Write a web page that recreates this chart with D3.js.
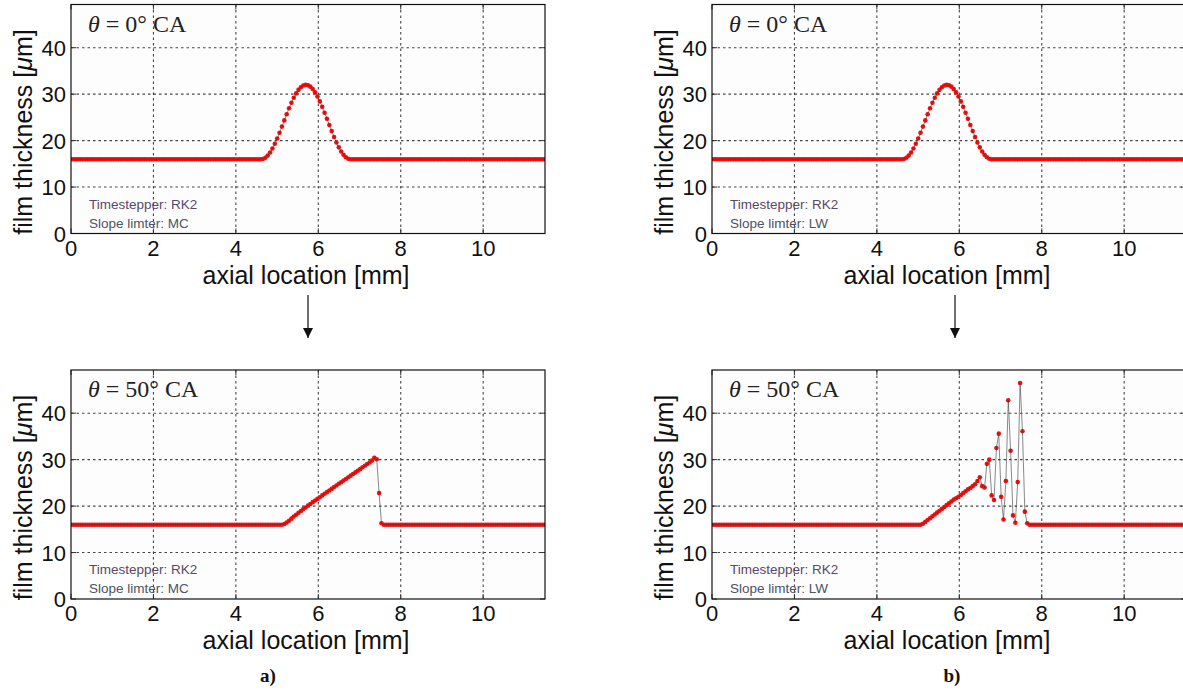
<!DOCTYPE html>
<html lang="en">
<head>
  <meta charset="utf-8">
  <title>film thickness</title>
  <script src="https://d3js.org/d3.v7.min.js"></script>
  <style>
    body { margin: 0; background: #fff; }
    svg { display: block; }
  </style>
</head>
<body>
<script>
  // cell grid of the solver (axial location in mm)
  var gridDx = 0.0575;
  var gridN = 201;
  var baseLevel = 16;

  var xTicks = [0, 2, 4, 6, 8, 10];
  var yTicks = [0, 10, 20, 30, 40];
  var xGrid = [2, 4, 6, 8, 10];
  var yGrid = [10, 20, 30, 40];

  // theta = 0 CA, initial bump (same for both limiters), starts at cell 81
  var bumpStart = 81;
  var bumpVals = [16.05, 16.3, 16.77, 17.45, 18.31, 19.31, 20.46, 21.69, 23.01, 24.35,
    25.68, 26.95, 28.15, 29.23, 30.16, 30.93, 31.5, 31.86, 32.0, 31.92,
    31.61, 31.09, 30.38, 29.49, 28.44, 27.27, 26.01, 24.7, 23.36, 22.05,
    20.79, 19.6, 18.55, 17.65, 16.93, 16.41, 16.09];

  // theta = 50 CA, MC limiter, starts at cell 89
  var mcStart = 89;
  var mcVals = [16.0, 16.15, 16.45, 16.85, 17.3, 17.75, 18.15, 18.55, 18.95, 19.35,
    19.7, 20.1, 20.45, 20.85, 21.2, 21.55, 21.9, 22.3, 22.65, 23.0,
    23.35, 23.7, 24.1, 24.45, 24.8, 25.15, 25.5, 25.85, 26.2, 26.55,
    26.9, 27.25, 27.6, 27.95, 28.35, 28.7, 29.05, 29.4, 29.8, 30.4,
    30.1, 22.8, 16.3];

  // theta = 50 CA, LW limiter, starts at cell 88
  var lwStart = 88;
  var lwVals = [16.0, 16.2, 16.6, 17.0, 17.4, 17.8, 18.2, 18.6, 19.0, 19.4,
    19.8, 20.2, 20.6, 21.0, 21.4, 21.7, 22.0, 22.4, 22.8, 23.2,
    23.6, 23.9, 24.3, 24.7, 25.4, 26.2, 24.3, 24.0, 29.1, 30.0,
    22.3, 21.3, 32.5, 35.6, 22.0, 17.1, 25.4, 42.8, 31.9, 18.0,
    16.4, 25.2, 46.5, 36.1, 18.8, 16.3];

  function profile(start, vals) {
    var out = [];
    for (var i = 0; i < gridN; i++) {
      var k = i - start;
      out.push({ x: i * gridDx, y: (k >= 0 && k < vals.length) ? vals[k] : baseLevel });
    }
    return out;
  }

  var panels = [
    { col: 0, row: 0, angle: "0", limiter: "MC", data: profile(bumpStart, bumpVals) },
    { col: 1, row: 0, angle: "0", limiter: "LW", data: profile(bumpStart, bumpVals) },
    { col: 0, row: 1, angle: "50", limiter: "MC", data: profile(mcStart, mcVals) },
    { col: 1, row: 1, angle: "50", limiter: "LW", data: profile(lwStart, lwVals) }
  ];

  var W = 1183, H = 692;
  var colLeft = [71, 712];
  var rowTop = [4.5, 370];
  var pw = 474, ph = 229;

  var svg = d3.select("body").append("svg")
    .attr("width", W)
    .attr("height", H);

  var defs = svg.append("defs");
  defs.append("marker")
    .attr("id", "ahead")
    .attr("viewBox", "0 0 10 10")
    .attr("refX", 5).attr("refY", 10)
    .attr("markerWidth", 10).attr("markerHeight", 11)
    .attr("markerUnits", "userSpaceOnUse")
    .attr("orient", "0")
    .append("path")
    .attr("d", "M0,0 L10,0 L5,10 Z")
    .attr("fill", "#111");

  panels.forEach(function(p, n) {
    var x0 = colLeft[p.col], y0 = rowTop[p.row];
    var x = d3.scaleLinear().domain([0, 11.5]).range([x0, x0 + pw]);
    var y = d3.scaleLinear().domain([0, 49.3]).range([y0 + ph, y0]);

    var g = svg.append("g");

    g.append("clipPath").attr("id", "clip" + n)
      .append("rect")
      .attr("x", x0).attr("y", y0).attr("width", pw).attr("height", ph);

    g.append("rect")
      .attr("x", x0).attr("y", y0).attr("width", pw).attr("height", ph)
      .attr("fill", "#fdfdfd");

    // dotted grid
    g.selectAll(".gx").data(xGrid).enter().append("line")
      .attr("x1", function(d) { return x(d); }).attr("x2", function(d) { return x(d); })
      .attr("y1", y0).attr("y2", y0 + ph)
      .attr("stroke", "#444").attr("stroke-width", 1.1)
      .attr("stroke-dasharray", "2.5,3");
    g.selectAll(".gy").data(yGrid).enter().append("line")
      .attr("x1", x0).attr("x2", x0 + pw)
      .attr("y1", function(d) { return y(d); }).attr("y2", function(d) { return y(d); })
      .attr("stroke", "#444").attr("stroke-width", 1.1)
      .attr("stroke-dasharray", "2.5,3");

    // inner ticks on all four sides
    var tl = 5;
    xTicks.forEach(function(t) {
      g.append("line").attr("x1", x(t)).attr("x2", x(t)).attr("y1", y0 + ph).attr("y2", y0 + ph - tl)
        .attr("stroke", "#333");
      g.append("line").attr("x1", x(t)).attr("x2", x(t)).attr("y1", y0).attr("y2", y0 + tl)
        .attr("stroke", "#333");
    });
    yTicks.forEach(function(t) {
      g.append("line").attr("x1", x0).attr("x2", x0 + tl).attr("y1", y(t)).attr("y2", y(t))
        .attr("stroke", "#333");
      g.append("line").attr("x1", x0 + pw).attr("x2", x0 + pw - tl).attr("y1", y(t)).attr("y2", y(t))
        .attr("stroke", "#333");
    });

    var plot = g.append("g").attr("clip-path", "url(#clip" + n + ")");

    plot.selectAll("circle").data(p.data).enter().append("circle")
      .attr("cx", function(d) { return x(d.x); })
      .attr("cy", function(d) { return y(d.y); })
      .attr("r", 2.3)
      .attr("fill", "#ff0a0a");

    var line = d3.line().x(function(d) { return x(d.x); }).y(function(d) { return y(d.y); });
    plot.append("path").datum(p.data)
      .attr("d", line)
      .attr("fill", "none")
      .attr("stroke", "#3a3a3a")
      .attr("stroke-opacity", 0.75)
      .attr("stroke-width", 0.8);

    // frame
    g.append("rect")
      .attr("x", x0).attr("y", y0).attr("width", pw).attr("height", ph)
      .attr("fill", "none").attr("stroke", "#111").attr("stroke-width", 1.2);

    // tick labels
    g.selectAll(".xt").data(xTicks).enter().append("text")
      .attr("x", function(d) { return x(d); })
      .attr("y", y0 + ph + 22)
      .attr("text-anchor", "middle")
      .attr("font-family", "Liberation Sans, Arial, sans-serif")
      .attr("font-size", 22)
      .attr("fill", "#111")
      .text(function(d) { return d; });
    g.selectAll(".yt").data(yTicks).enter().append("text")
      .attr("x", x0 - 5)
      .attr("y", function(d) { return y(d) + 8; })
      .attr("text-anchor", "end")
      .attr("font-family", "Liberation Sans, Arial, sans-serif")
      .attr("font-size", 22)
      .attr("fill", "#111")
      .text(function(d) { return d; });

    // axis labels
    g.append("text")
      .attr("x", x0 + 235)
      .attr("y", y0 + ph + 50)
      .attr("text-anchor", "middle")
      .attr("font-family", "Liberation Sans, Arial, sans-serif")
      .attr("font-size", 25)
      .attr("fill", "#111")
      .text("axial location [mm]");
    var yl = g.append("text")
      .attr("transform", "translate(" + (x0 - 39) + "," + (y0 + ph / 2 + 13) + ") rotate(-90)")
      .attr("text-anchor", "middle")
      .attr("font-family", "Liberation Sans, Arial, sans-serif")
      .attr("font-size", 25)
      .attr("fill", "#111");
    yl.append("tspan").text("film thickness [");
    yl.append("tspan").attr("font-style", "italic").text("\u03bc");
    yl.append("tspan").text("m]");

    // panel title
    var tt = g.append("text")
      .attr("x", x0 + 17)
      .attr("y", y0 + 27)
      .attr("font-family", "Liberation Serif, Times New Roman, serif")
      .attr("font-size", 24)
      .attr("fill", "#222");
    tt.append("tspan").attr("font-style", "italic").text("\u03b8");
    tt.append("tspan").text(" = " + p.angle + "\u00b0 CA");

    // solver notes
    g.append("text")
      .attr("x", x0 + 18).attr("y", y0 + ph - 25)
      .attr("font-family", "Liberation Sans, Arial, sans-serif")
      .attr("font-size", 13.5)
      .attr("fill", "#5a4868")
      .text("Timestepper: RK2");
    g.append("text")
      .attr("x", x0 + 18).attr("y", y0 + ph - 6)
      .attr("font-family", "Liberation Sans, Arial, sans-serif")
      .attr("font-size", 13.5)
      .attr("fill", "#4c5464")
      .text("Slope limter: " + p.limiter);
  });

  // arrows between rows
  [308, 955].forEach(function(ax) {
    svg.append("line")
      .attr("x1", ax).attr("x2", ax)
      .attr("y1", 295).attr("y2", 338)
      .attr("stroke", "#222").attr("stroke-width", 1.3)
      .attr("marker-end", "url(#ahead)");
  });

  // sub figure captions
  [["a)", 268], ["b)", 952]].forEach(function(c) {
    svg.append("text")
      .attr("x", c[1]).attr("y", 682)
      .attr("text-anchor", "middle")
      .attr("font-family", "Liberation Serif, Times New Roman, serif")
      .attr("font-weight", "bold")
      .attr("font-size", 19)
      .attr("fill", "#111")
      .text(c[0]);
  });
</script>
</body>
</html>
